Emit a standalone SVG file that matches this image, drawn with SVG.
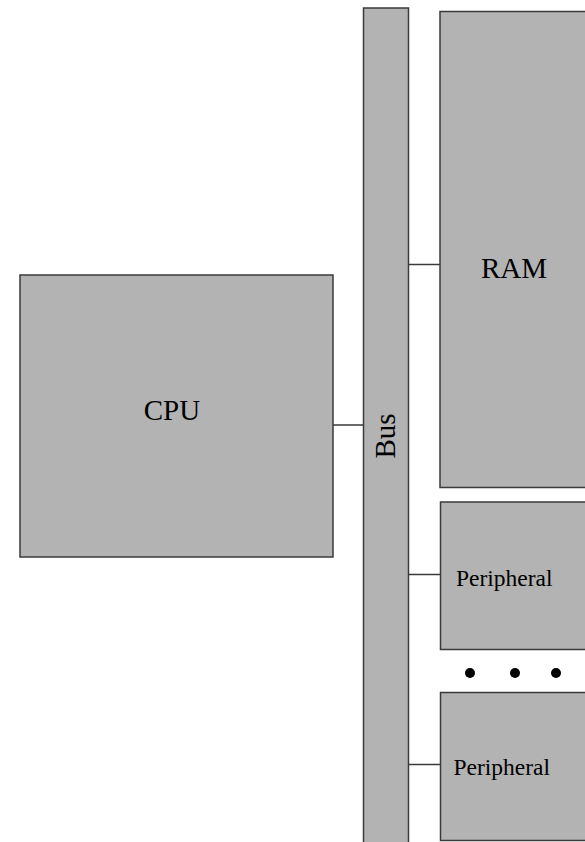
<svg xmlns="http://www.w3.org/2000/svg" width="585" height="842" viewBox="0 0 585 842">
<style>
.box{fill:#b3b3b3;stroke:#3a3a3a;stroke-width:1.5}
.lbl{font-family:"Liberation Serif","Times New Roman",serif;fill:#000}
.con{stroke:#3a3a3a;stroke-width:1.5;fill:none}
</style>
<rect width="585" height="842" fill="#fff"/>
<g id="connectors">
<line class="con" x1="333" y1="425" x2="363.5" y2="425"/>
<line class="con" x1="408.5" y1="264.5" x2="440" y2="264.5"/>
<line class="con" x1="408.5" y1="574.5" x2="440.5" y2="574.5"/>
<line class="con" x1="408.5" y1="764.5" x2="440.5" y2="764.5"/>
</g>
<g id="cpu">
<rect class="box" x="20" y="275" width="313" height="282"/>
<text class="lbl" x="172" y="419.5" font-size="29" text-anchor="middle">CPU</text>
</g>
<g id="bus">
<rect class="box" x="363.5" y="8" width="45" height="850"/>
<text class="lbl" transform="translate(395,436) rotate(-90)" font-size="29" text-anchor="middle">Bus</text>
</g>
<g id="ram">
<rect class="box" x="440" y="11.5" width="160" height="476"/>
<text class="lbl" x="514" y="278" font-size="29" text-anchor="middle">RAM</text>
</g>
<g id="peripheral1">
<rect class="box" x="440.5" y="502" width="160" height="147.5"/>
<text class="lbl" x="456" y="586" font-size="23.5">Peripheral</text>
</g>
<g id="ellipsis">
<circle cx="470" cy="673" r="5" fill="#000"/>
<circle cx="515" cy="673" r="5" fill="#000"/>
<circle cx="556" cy="673" r="5" fill="#000"/>
</g>
<g id="peripheral2">
<rect class="box" x="440.5" y="692.5" width="160" height="148"/>
<text class="lbl" x="453.5" y="775" font-size="23.5">Peripheral</text>
</g>
</svg>
